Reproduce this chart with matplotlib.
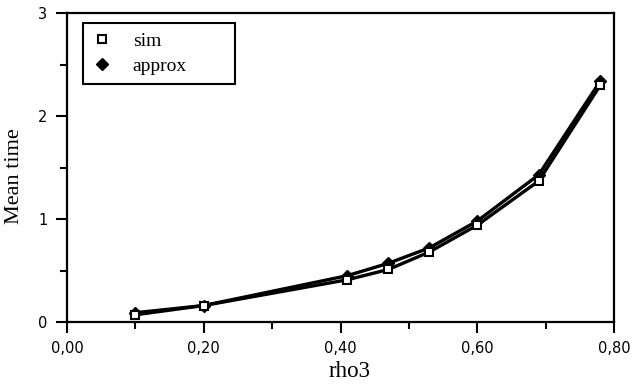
import matplotlib
matplotlib.use("Agg")
import matplotlib.pyplot as plt
from matplotlib.ticker import MultipleLocator, FuncFormatter
from matplotlib.lines import Line2D

# data
rho3 = [0.10, 0.20, 0.41, 0.47, 0.53, 0.60, 0.69, 0.78]
sim = [0.07, 0.16, 0.41, 0.51, 0.68, 0.94, 1.37, 2.30]
approx = [0.09, 0.16, 0.45, 0.57, 0.72, 0.98, 1.43, 2.34]
series_labels = ["sim", "approx"]
x_ticks = [0.0, 0.2, 0.4, 0.6, 0.8]
y_ticks = [0, 1, 2, 3]

fig = plt.figure(figsize=(6.37, 3.88), dpi=100)
ax = fig.add_axes([67/637, 1-322/388, (614-67)/637, (322-13)/388])

ax.plot(rho3, approx, color="black", lw=2.4, marker="D", ms=6,
        mfc="black", mec="black", zorder=3)
ax.plot(rho3, sim, color="black", lw=2.4, marker="s", ms=6,
        mfc="white", mec="black", mew=1.5, zorder=4)

ax.set_xlim(0, 0.8)
ax.set_ylim(0, 3)
ax.set_xticks(x_ticks)
ax.set_yticks(y_ticks)
ax.xaxis.set_minor_locator(MultipleLocator(0.1))
ax.yaxis.set_minor_locator(MultipleLocator(0.5))
ax.xaxis.set_major_formatter(FuncFormatter(lambda v, p: f"{v:.2f}".replace(".", ",")))
ax.yaxis.set_major_formatter(FuncFormatter(lambda v, p: f"{v:.0f}"))

for s in ax.spines.values():
    s.set_linewidth(1.6)
ax.tick_params(which="major", direction="out", length=8, width=1.5,
               labelsize=10.5, pad=6)
ax.tick_params(which="minor", direction="out", length=5, width=1.5)
for lab in ax.get_xticklabels() + ax.get_yticklabels():
    lab.set_family("DejaVu Sans")

ax.set_xlabel("rho3", family="Liberation Serif", fontsize=16.5)
ax.set_ylabel("Mean time", family="Liberation Serif", fontsize=16)
ax.xaxis.set_label_coords(0.517, -0.125)
ax.yaxis.set_label_coords(-0.078, 0.472)

hs = [Line2D([], [], ls="none", marker="s", ms=6, mfc="white", mec="black", mew=1.5),
      Line2D([], [], ls="none", marker="D", ms=6, mfc="black", mec="black")]
leg = ax.legend(hs, series_labels, loc="upper left",
                bbox_to_anchor=(0.029, 0.968, 0.278, 0.0), mode="expand",
                frameon=True, fancybox=False, edgecolor="black",
                prop={"family": "Liberation Serif", "size": 14},
                handletextpad=1.06, borderpad=0.5, labelspacing=0.35,
                borderaxespad=0, handlelength=1.0)
leg.get_frame().set_linewidth(1.5)
leg.get_frame().set_alpha(1)

fig.savefig("out.png", dpi=100)
